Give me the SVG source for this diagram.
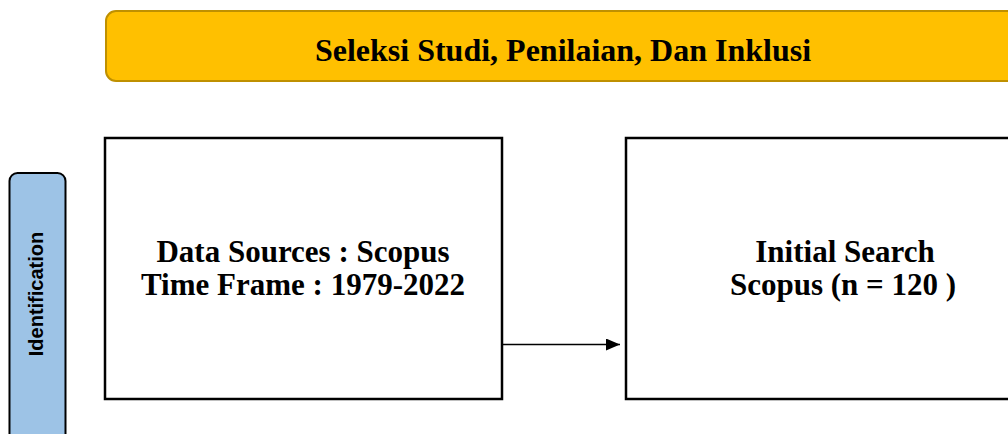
<svg xmlns="http://www.w3.org/2000/svg" width="1008" height="434" viewBox="0 0 1008 434">
<style>
.box{fill:#ffffff;stroke:#000000;stroke-width:2.5}
.t{font-family:"Liberation Serif","Times New Roman",serif;font-weight:bold;font-size:31px;fill:#000;text-anchor:middle}
.h{font-family:"Liberation Serif","Times New Roman",serif;font-weight:bold;font-size:32px;fill:#000;text-anchor:middle}
.side{font-family:"Liberation Sans",Arial,sans-serif;font-weight:bold;font-size:20px;fill:#000;text-anchor:middle}
</style>
<defs>
<marker id="arr" markerWidth="14" markerHeight="12" refX="14" refY="6" orient="auto" markerUnits="userSpaceOnUse">
<path d="M0,0 L14,6 L0,12 Z" fill="#000"/>
</marker>
</defs>
<rect width="1008" height="434" fill="#ffffff"/>
<g id="header">
<rect x="106" y="11" width="920" height="70" rx="10" ry="10" fill="#FFC000" stroke="#BF9000" stroke-width="2"/>
<text class="h" x="563" y="61">Seleksi Studi, Penilaian, Dan Inklusi</text>
</g>
<g id="identification">
<rect x="9.5" y="173" width="56" height="290" rx="8" ry="8" fill="#9DC3E6" stroke="#000" stroke-width="2"/>
<text class="side" transform="translate(43,294) rotate(-90)">Identification</text>
</g>
<g id="data-sources">
<rect class="box" x="105" y="138" width="397" height="261"/>
<text class="t" x="303" y="262">Data Sources : Scopus</text>
<text class="t" x="303" y="295">Time Frame : 1979-2022</text>
</g>
<g id="initial-search">
<rect class="box" x="626" y="138" width="440" height="261"/>
<text class="t" x="845" y="262">Initial Search</text>
<text class="t" x="843" y="295">Scopus (n = 120 )</text>
</g>
<g id="connectors">
<line x1="502" y1="344.5" x2="620" y2="344.5" stroke="#000" stroke-width="1.5" marker-end="url(#arr)"/>
</g>
</svg>
